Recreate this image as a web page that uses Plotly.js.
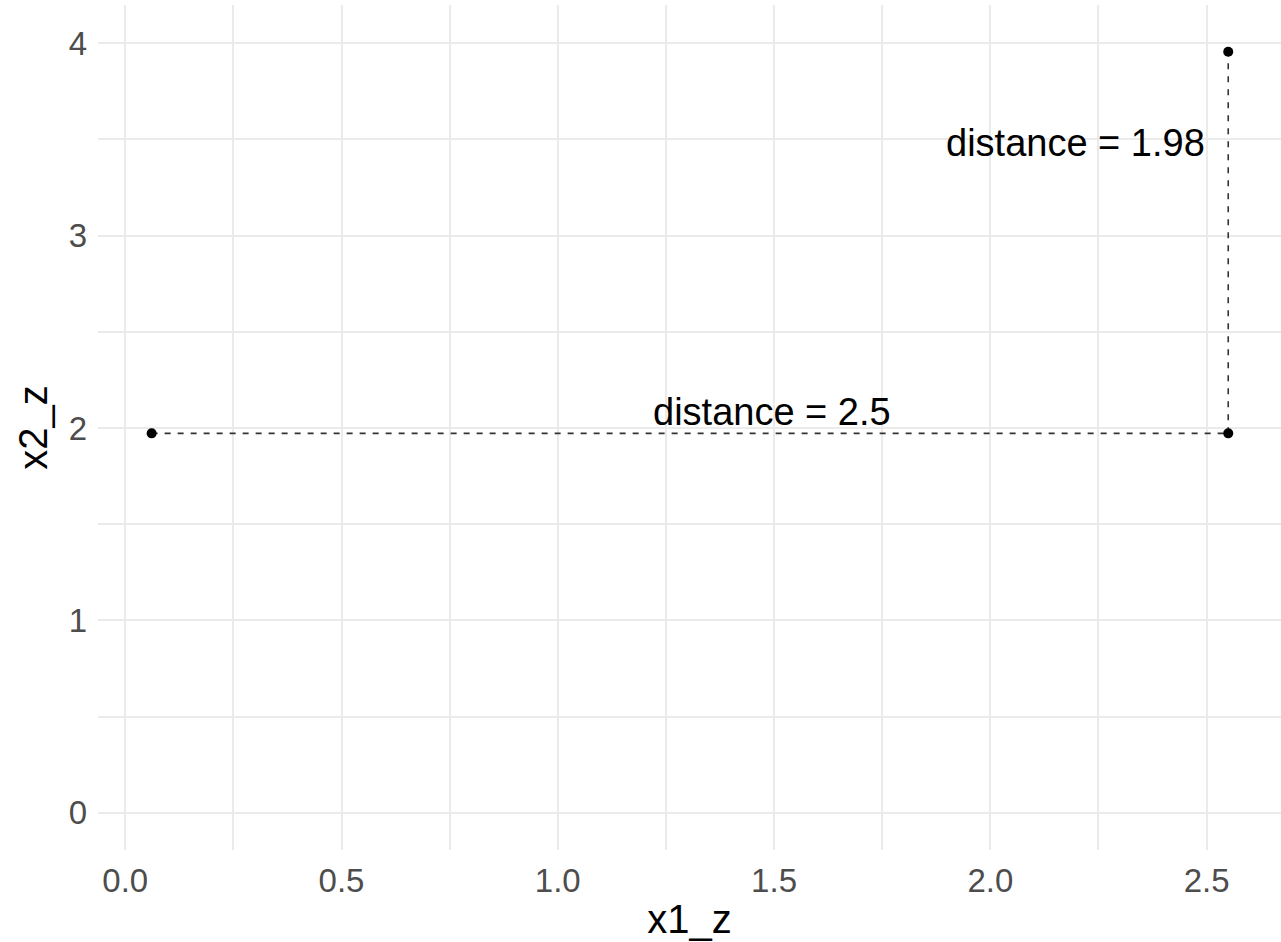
<!DOCTYPE html>
<html>
<head>
<meta charset="utf-8">
<script src="https://cdn.plot.ly/plotly-3.0.1.min.js"></script>
<style>html,body{margin:0;padding:0;background:#fff;}#chart{width:1281px;height:942px;}</style>
</head>
<body>
<div id="chart"></div>
<script>
// Points (standardized coordinates)
const pointX = [0.061, 2.55, 2.55];
const pointY = [1.972, 1.972, 3.956];
// Horizontal distance segment
const hSegX = [0.061, 2.55];
const hSegY = [1.972, 1.972];
// Vertical distance segment
const vSegX = [2.55, 2.55];
const vSegY = [1.972, 3.956];
// Labels
const labelText = ["distance = 2.5", "distance = 1.98"];
const labelX = [1.495, 2.197];
const labelY = [2.083, 3.48];

const lineStyle = {color: '#333333', width: 1.6, dash: '6px,7px'};

const traces = [
  {x: hSegX, y: hSegY, mode: 'lines', line: lineStyle, hoverinfo: 'skip', showlegend: false},
  {x: vSegX, y: vSegY, mode: 'lines', line: lineStyle, hoverinfo: 'skip', showlegend: false},
  {x: pointX, y: pointY, mode: 'markers', marker: {color: '#000000', size: 10}, showlegend: false}
];

const gridCol = '#EBEBEB';
const layout = {
  width: 1281, height: 942,
  margin: {l: 98, r: 0, t: 5, b: 92, pad: 0},
  paper_bgcolor: '#ffffff', plot_bgcolor: '#ffffff',
  font: {family: 'Liberation Sans, Arial, sans-serif'},
  showlegend: false,
  xaxis: {
    range: [-0.063, 2.672], dtick: 0.5, tick0: 0, tickformat: '.1f',
    showgrid: true, gridcolor: gridCol, gridwidth: 2,
    minor: {dtick: 0.25, tick0: 0, showgrid: true, gridcolor: gridCol, gridwidth: 2},
    zeroline: false, showline: false, ticks: '',
    tickfont: {size: 33, color: '#4D4D4D'},
    ticklabelstandoff: 8,
    title: {text: 'x1_z', font: {size: 40, color: '#000000'}, standoff: 6}
  },
  yaxis: {
    range: [-0.194, 4.199], dtick: 1, tick0: 0,
    showgrid: true, gridcolor: gridCol, gridwidth: 2,
    minor: {dtick: 0.5, tick0: 0, showgrid: true, gridcolor: gridCol, gridwidth: 2},
    zeroline: false, showline: false, ticks: '',
    tickfont: {size: 33, color: '#4D4D4D'},
    ticklabelstandoff: 10,
    title: {text: 'x2_z', font: {size: 40, color: '#000000'}, standoff: 8}
  },
  annotations: labelText.map((t, i) => ({
    x: labelX[i], y: labelY[i], xref: 'x', yref: 'y', text: t, showarrow: false,
    xanchor: 'center', yanchor: 'middle',
    font: {size: 38, color: '#000000'}
  }))
};

Plotly.newPlot('chart', traces, layout, {displayModeBar: false, staticPlot: true});
</script>
</body>
</html>
